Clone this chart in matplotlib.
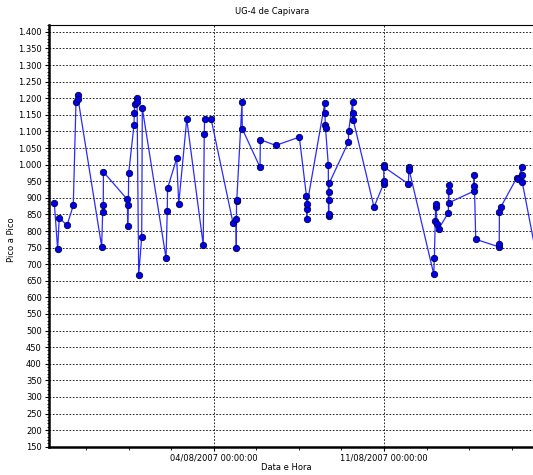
from datetime import datetime, timedelta
import matplotlib
matplotlib.use("Agg")
import matplotlib.pyplot as plt
import matplotlib.dates as mdates
from matplotlib.ticker import MultipleLocator, FuncFormatter, FixedLocator

#----- Data -----
timestamps = [
    "28/07/2007 10:50", "28/07/2007 14:05", "28/07/2007 15:40", "28/07/2007 23:20",
    "29/07/2007 05:30", "29/07/2007 08:10", "29/07/2007 09:55", "29/07/2007 10:15",
    "30/07/2007 09:30", "30/07/2007 10:30", "30/07/2007 11:05", "30/07/2007 11:15",
    "31/07/2007 10:50", "31/07/2007 11:10", "31/07/2007 11:45", "31/07/2007 12:10",
    "31/07/2007 17:25", "31/07/2007 17:40", "31/07/2007 18:00", "31/07/2007 20:05",
    "31/07/2007 20:25", "31/07/2007 22:00", "01/08/2007 01:00", "01/08/2007 01:35",
    "02/08/2007 01:00", "02/08/2007 02:10", "02/08/2007 02:30", "02/08/2007 11:30",
    "02/08/2007 13:30", "02/08/2007 21:25", "03/08/2007 13:40", "03/08/2007 14:40",
    "03/08/2007 15:00", "03/08/2007 21:20", "04/08/2007 19:00", "04/08/2007 22:00",
    "04/08/2007 22:15", "04/08/2007 22:30", "04/08/2007 22:45", "05/08/2007 03:55",
    "05/08/2007 04:10", "05/08/2007 21:40", "05/08/2007 22:00", "06/08/2007 13:10",
    "07/08/2007 12:25", "07/08/2007 19:30", "07/08/2007 19:45", "07/08/2007 20:00",
    "07/08/2007 20:10", "08/08/2007 13:30", "08/08/2007 13:45", "08/08/2007 14:00",
    "08/08/2007 14:15", "08/08/2007 17:00", "08/08/2007 17:15", "08/08/2007 17:25",
    "08/08/2007 17:35", "08/08/2007 17:45", "08/08/2007 17:55", "09/08/2007 12:50",
    "09/08/2007 13:00", "09/08/2007 17:05", "09/08/2007 17:20", "09/08/2007 17:35",
    "10/08/2007 14:05", "10/08/2007 23:30", "10/08/2007 23:40", "10/08/2007 23:50",
    "11/08/2007 00:20", "11/08/2007 23:55", "12/08/2007 00:35", "12/08/2007 00:50",
    "13/08/2007 01:00", "13/08/2007 01:35", "13/08/2007 02:30", "13/08/2007 02:50",
    "13/08/2007 03:30", "13/08/2007 03:55", "13/08/2007 05:55", "13/08/2007 15:25",
    "13/08/2007 15:35", "13/08/2007 15:45", "13/08/2007 15:55", "14/08/2007 16:25",
    "14/08/2007 16:35", "14/08/2007 16:50", "14/08/2007 18:25", "15/08/2007 17:25",
    "15/08/2007 17:35", "15/08/2007 17:45", "15/08/2007 19:05", "16/08/2007 10:50",
    "16/08/2007 12:25", "16/08/2007 15:45", "16/08/2007 16:00", "16/08/2007 16:15",
    "17/08/2007 09:50",
]
pico_a_pico = [
    883, 745, 840, 817,
    877, 1188, 1210, 1198,
    753, 857, 877, 978,
    895, 815, 877, 975,
    1120, 1155, 1183, 1200,
    1188, 667, 782, 1170,
    718, 859, 929, 1019,
    882, 1137, 758, 1092,
    1137, 1139, 825, 837,
    750, 890, 893, 1188,
    1108, 992, 1075, 1058,
    1083, 905, 835, 867,
    882, 1185, 1157, 1120,
    1110, 1000, 845, 850,
    892, 919, 944, 1068,
    1100, 1190, 1157, 1135,
    872, 942, 950, 1000,
    992, 942, 992, 983,
    670, 720, 830, 872,
    882, 820, 807, 855,
    940, 920, 885, 920,
    935, 970, 775, 752,
    762, 858, 872, 960,
    957, 992, 968, 948,
    669,
]
major_dates = ["04/08/2007 00:00", "11/08/2007 00:00"]

datas = [datetime.strptime(t, "%d/%m/%Y %H:%M") for t in timestamps]
majors = [datetime.strptime(t, "%d/%m/%Y %H:%M") for t in major_dates]

#----- Figure -----
plt.rcParams.update({"font.family": "DejaVu Sans", "font.size": 6})
fig = plt.figure(figsize=(5.33, 4.75), dpi=100)
ax = fig.add_axes([0.0914, 0.0596, 0.9086, 0.8872])

ax.plot(datas, pico_a_pico, color="#2a2aff", lw=0.9, marker="o", ms=4.6,
        mfc="#0000ee", mec="#000044", mew=0.6, zorder=3)

ax.set_ylim(150, 1420)
ax.set_xlim(majors[0] - timedelta(days=6.78), majors[0] + timedelta(days=13.12))

#--- y axis ---
ax.yaxis.set_major_locator(MultipleLocator(50))
ax.yaxis.set_minor_locator(MultipleLocator(10))
ax.yaxis.set_major_formatter(FuncFormatter(lambda v, p: f"{int(v):,}".replace(",", ".")))
ax.set_yticks([v for v in range(150, 1401, 50)])

#--- x axis ---
major_nums = mdates.date2num(majors)
ax.xaxis.set_major_locator(FixedLocator(major_nums))
ax.xaxis.set_major_formatter(mdates.DateFormatter("%d/%m/%Y %H:%M:%S"))
minor_nums = [major_nums[0] + k * 1.75 for k in range(-4, 8)]
ax.xaxis.set_minor_locator(FixedLocator(minor_nums))

ax.tick_params(which="major", direction="out", length=3, width=0.8, pad=2, colors="black")
ax.tick_params(which="minor", direction="out", length=1.8, width=0.6)

ax.grid(True, which="major", axis="both", color="black", ls=(0, (2, 2)), lw=0.6)

for s in ["left", "bottom"]:
    ax.spines[s].set_linewidth(1.8)
ax.spines["top"].set_linewidth(0.8)
ax.spines["right"].set_visible(False)

fig.text(272 / 533, 1 - 12 / 475, "UG-4 de Capivara", ha="center", va="center", fontsize=6)
fig.text(286 / 533, 1 - 468 / 475, "Data e Hora", ha="center", va="center", fontsize=6)
fig.text(12 / 533, 1 - 240 / 475, "Pico a Pico", ha="center", va="center",
         rotation=90, fontsize=6)

fig.savefig("out.png", dpi=100)
